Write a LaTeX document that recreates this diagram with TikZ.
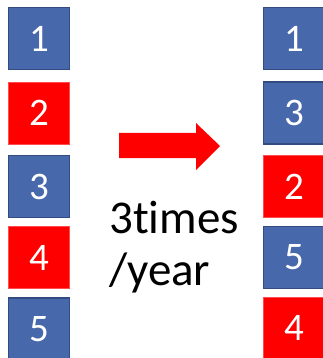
\documentclass[tikz,border=0pt]{standalone}
\usepackage{fontspec}
\setmainfont[Ligatures=NoCommon]{Carlito}
\definecolor{boxblue}{RGB}{72,104,172}
\definecolor{boxedge}{RGB}{50,76,130}
\definecolor{boxred}{RGB}{255,0,0}
\begin{document}
\begin{tikzpicture}[x=1pt,y=-1pt,
  cell/.style={rectangle,minimum width=61pt,minimum height=62pt,inner sep=0pt,
    text=white,font=\fontsize{39}{41}\selectfont},
  bluecell/.style={cell,fill=boxblue,draw=boxedge,line width=1.6pt},
  redcell/.style={cell,fill=boxred,draw=boxred!70!white,line width=0.6pt}]
\useasboundingbox (0,0) rectangle (323,358);
% left column
\node[bluecell] (l1) at (39,38.5) {1};
\node[redcell]  (l2) at (39,113) {2};
\node[bluecell] (l3) at (39,186.5) {3};
\node[redcell]  (l4) at (39,257.5) {4};
\node[bluecell] (l5) at (39,329) {5};
% right column
\node[bluecell] (r1) at (294,38.5) {1};
\node[bluecell] (r3) at (294,113) {3};
\node[redcell]  (r2) at (294,186.5) {2};
\node[bluecell] (r5) at (294,257.5) {5};
\node[redcell]  (r4) at (294,328) {4};
% arrow
\fill[boxred] (119,133) -- (196,133) -- (196,123) -- (220,146) -- (196,170) -- (196,158) -- (119,158) -- cycle;
% label
\node[anchor=base west,inner sep=0pt,align=left,font=\fontsize{47}{52}\selectfont] (lbl) at (109,285) {3times\\/year};
\end{tikzpicture}
\end{document}
